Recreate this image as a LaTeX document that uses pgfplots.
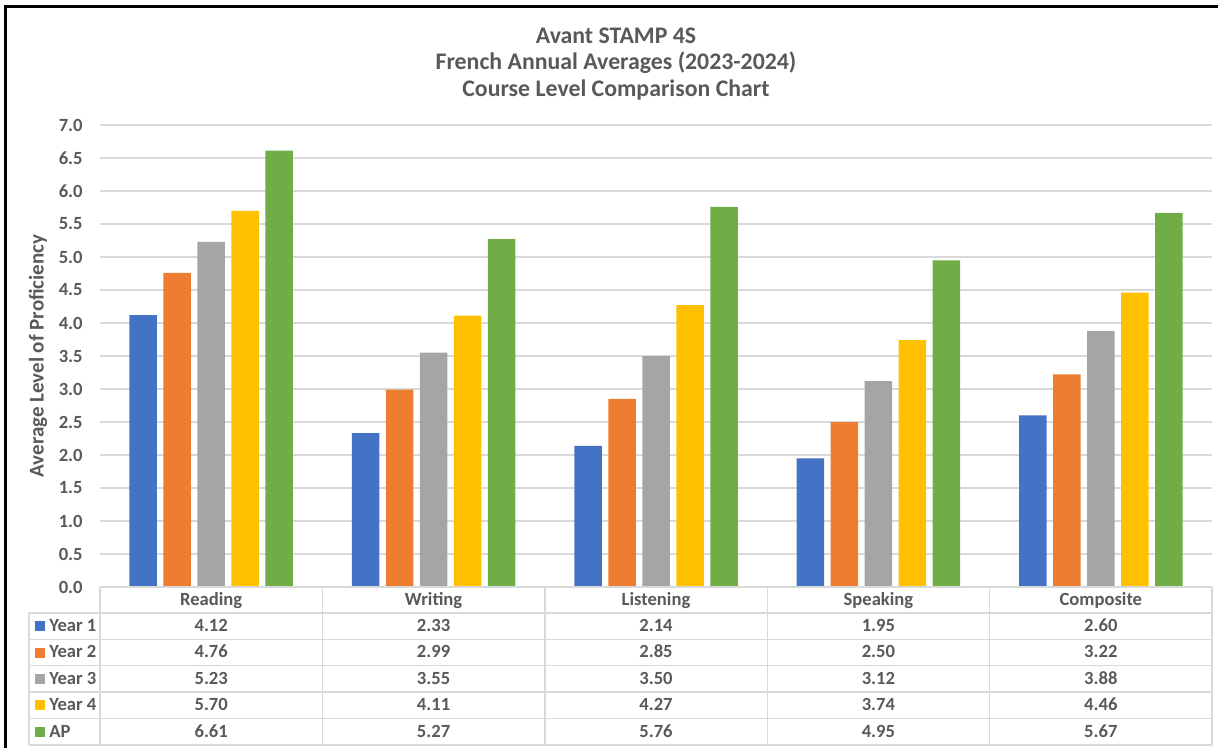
\documentclass[border=0pt]{standalone}
\usepackage{pgfplots}
\pgfplotsset{compat=1.18}
\usepackage{pgfplotstable}
\usepackage{fontspec}
\setmainfont{Carlito}

\definecolor{cy1}{HTML}{4472C4}
\definecolor{cy2}{HTML}{ED7D31}
\definecolor{cy3}{HTML}{A5A5A5}
\definecolor{cy4}{HTML}{FFC000}
\definecolor{cyap}{HTML}{70AD47}
\definecolor{txt}{HTML}{595959}
\definecolor{gridc}{HTML}{D9D9D9}

\pgfplotstableread{
x cat y1 y2 y3 y4 ap
0 Reading 4.12 4.76 5.23 5.70 6.61
1 Writing 2.33 2.99 3.55 4.11 5.27
2 Listening 2.14 2.85 3.50 4.27 5.76
3 Speaking 1.95 2.50 3.12 3.74 4.95
4 Composite 2.60 3.22 3.88 4.46 5.67
}\scores

\newcommand{\tabfont}{\fontsize{9.3}{11}\selectfont\bfseries}

\begin{document}
\begin{tikzpicture}
\begin{axis}[
  at={(0,0)}, anchor=south west,
  scale only axis, width=556pt, height=231pt,
  xmin=-0.5, xmax=4.5, ymin=0, ymax=7,
  ybar=3.25pt, bar width=13.75pt,
  xtick=\empty,
  ytick={0,0.5,1,1.5,2,2.5,3,3.5,4,4.5,5,5.5,6,6.5,7},
  yticklabel style={font=\tabfont, text=txt, inner sep=0pt, xshift=-8.5pt,
    /pgf/number format/.cd, fixed, fixed zerofill, precision=1, assume math mode=true},
  major tick length=0pt,
  axis line style={draw=none},
  ymajorgrids, grid style={gridc, line width=0.7pt},
  clip=false,
]
\addplot[fill=cy1, draw=none] table[x=x, y=y1] {\scores};
\addplot[fill=cy2, draw=none] table[x=x, y=y2] {\scores};
\addplot[fill=cy3, draw=none] table[x=x, y=y3] {\scores};
\addplot[fill=cy4, draw=none] table[x=x, y=y4] {\scores};
\addplot[fill=cyap, draw=none] table[x=x, y=ap] {\scores};
\end{axis}

% everything else in image pixels, origin top-left
\begin{scope}[x=0.5pt, y=-0.5pt, shift={(-50pt,293.5pt)}]
  % title
  \begin{scope}[font=\fontsize{11.9}{14}\selectfont\bfseries, text=txt]
    \node[anchor=base] at (616,43.5) {Avant STAMP 4S};
    \node[anchor=base] at (616,70) {French Annual Averages (2023-2024)};
    \node[anchor=base] at (616,96.5) {Course Level Comparison Chart};
  \end{scope}
  \node[rotate=90, text=txt, font=\fontsize{10.5}{12}\selectfont\bfseries] at (38,356) {Average Level of Proficiency};

  % data table
  \begin{scope}[gridc, line width=0.7pt]
    \draw (100,587) -- (1212,587);
    \foreach \yy in {613,639.4,665.8,692.2,718.6,745} \draw (29,\yy) -- (1212,\yy);
    \draw (29,613) -- (29,745);
    \foreach \xx in {100,322.4,544.8,767.2,989.6,1212} \draw (\xx,587) -- (\xx,745);
  \end{scope}
  \foreach \i in {0,...,4} {
    \pgfplotstablegetelem{\i}{cat}\of\scores
    \node[anchor=base, text=txt, font=\tabfont] at (211.2+222.4*\i,605.5) {\pgfplotsretval};
  }
  \foreach \col/\lab/\cc [count=\r from 0] in {y1/Year 1/cy1, y2/Year 2/cy2, y3/Year 3/cy3, y4/Year 4/cy4, ap/AP/cyap} {
    \pgfmathsetmacro{\yc}{626.2+26.4*\r}
    \fill[\cc] (35,\yc-5) rectangle (45,\yc+5);
    \node[anchor=base west, inner sep=0pt, text=txt, font=\tabfont] at (49,\yc+5.2) {\lab};
    \foreach \i in {0,...,4} {
      \pgfplotstablegetelem{\i}{\col}\of\scores
      \node[anchor=base, text=txt, font=\tabfont] at (211.2+222.4*\i,\yc+5.2) {\pgfplotsretval};
    }
  }

  % outer frame (top and left edges visible)
  \draw[black, line width=1.5pt] (6,748) -- (6,7) -- (1218,7);
  \pgfresetboundingbox
  \path[use as bounding box] (0,0) rectangle (1218,748);
\end{scope}
\end{tikzpicture}
\end{document}
